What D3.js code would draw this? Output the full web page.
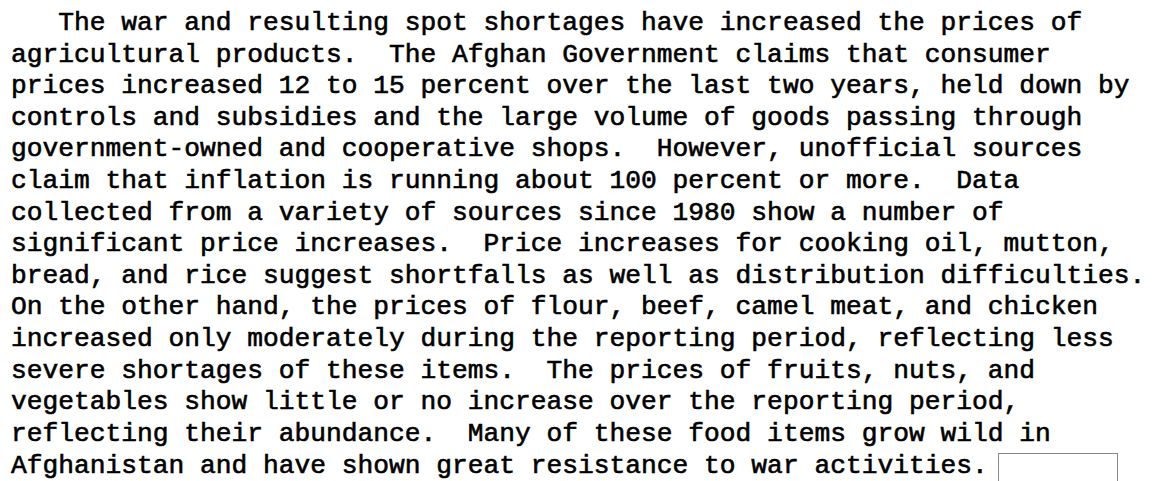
<!DOCTYPE html>
<html>
<head>
<meta charset="utf-8">
<script src="https://cdn.jsdelivr.net/npm/d3@7"></script>
<style>
  body { margin: 0; background: #fff; }
  svg { display: block; }
</style>
</head>
<body>
<div id="container"></div>
<script>

const lines = [
  "   The war and resulting spot shortages have increased the prices of",
  "agricultural products.  The Afghan Government claims that consumer",
  "prices increased 12 to 15 percent over the last two years, held down by",
  "controls and subsidies and the large volume of goods passing through",
  "government-owned and cooperative shops.  However, unofficial sources",
  "claim that inflation is running about 100 percent or more.  Data",
  "collected from a variety of sources since 1980 show a number of",
  "significant price increases.  Price increases for cooking oil, mutton,",
  "bread, and rice suggest shortfalls as well as distribution difficulties.",
  "On the other hand, the prices of flour, beef, camel meat, and chicken",
  "increased only moderately during the reporting period, reflecting less",
  "severe shortages of these items.  The prices of fruits, nuts, and",
  "vegetables show little or no increase over the reporting period,",
  "reflecting their abundance.  Many of these food items grow wild in",
  "Afghanistan and have shown great resistance to war activities."
];

const width = 1155;
const height = 481;

const svg = d3.select("#container")
  .append("svg")
  .attr("width", width)
  .attr("height", height);

// line index -> baseline, char column -> x
const y = d3.scaleLinear().domain([0, lines.length - 1]).range([30, 472.5]);
const x = d3.scaleLinear().domain([0, 72]).range([11, 11 + 72 * 15.75]);

svg.append("g")
  .selectAll("text")
  .data(lines)
  .enter()
  .append("text")
  .attr("x", x(0))
  .attr("y", (d, i) => y(i))
  .attr("xml:space", "preserve")
  .style("white-space", "pre")
  .style("font-family", "'Liberation Mono', 'Courier New', monospace")
  .style("font-size", "26.25px")
  .attr("fill", "#000")
  .attr("stroke", "#000")
  .attr("stroke-width", 0.6)
  .text(d => d);

// the small empty box after the last sentence
const last = lines[lines.length - 1];
svg.append("rect")
  .attr("x", x(last.length + 0.7))
  .attr("y", 453.5)
  .attr("width", 119)
  .attr("height", 40)
  .attr("fill", "none")
  .attr("stroke", "#888")
  .attr("stroke-width", 1);

</script>
</body>
</html>
